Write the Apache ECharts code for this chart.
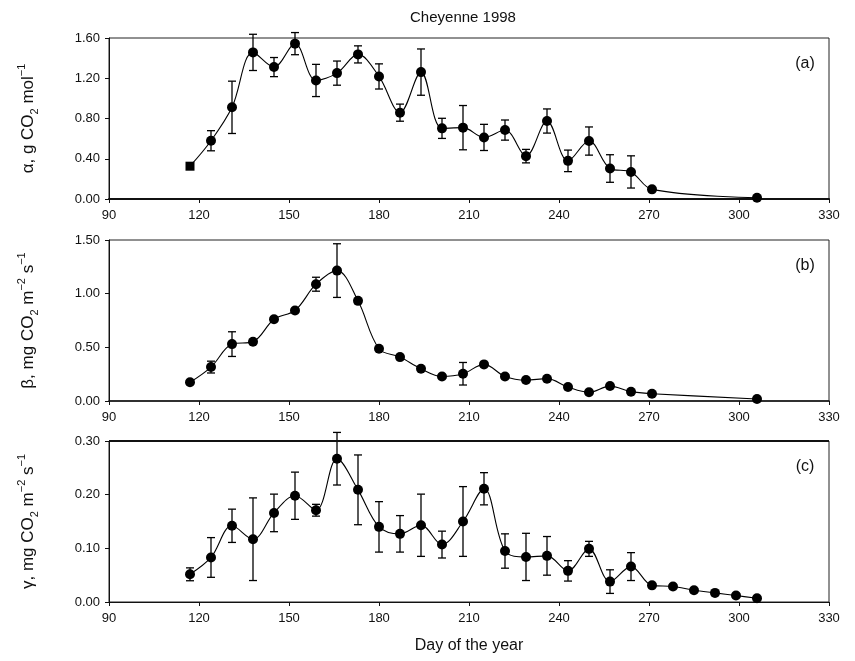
<!DOCTYPE html>
<html>
<head>
<meta charset="utf-8">
<script src="https://cdn.jsdelivr.net/npm/echarts@6/dist/echarts.min.js"></script>
<style>
  html, body { margin: 0; padding: 0; background: #fff; }
  #chart { width: 855px; height: 661px; }
</style>
</head>
<body>
<div id="chart"></div>
<script>
// Weekly sampling days (day of year)
const daysAB = [117, 124, 131, 138, 145, 152, 159, 166, 173, 180, 187, 194, 201, 208, 215, 222, 229, 236, 243, 250, 257, 264, 271, 306];
const daysC = [117, 124, 131, 138, 145, 152, 159, 166, 173, 180, 187, 194, 201, 208, 215, 222, 229, 236, 243, 250, 257, 264, 271, 278, 285, 292, 299, 306];

// (a) alpha, g CO2 mol-1 and its error half-width
const alphaVals = [0.326, 0.579, 0.911, 1.457, 1.311, 1.544, 1.178, 1.251, 1.437, 1.218, 0.858, 1.261, 0.702, 0.709, 0.612, 0.685, 0.426, 0.775, 0.379, 0.576, 0.303, 0.269, 0.096, 0.013];
const alphaErr = [0, 0.10, 0.26, 0.18, 0.095, 0.11, 0.16, 0.12, 0.085, 0.125, 0.085, 0.23, 0.10, 0.22, 0.13, 0.10, 0.067, 0.12, 0.107, 0.14, 0.137, 0.16, 0, 0];

// (b) beta, mg CO2 m-2 s-1
const betaVals = [0.174, 0.316, 0.530, 0.552, 0.762, 0.843, 1.088, 1.215, 0.933, 0.487, 0.409, 0.300, 0.229, 0.254, 0.341, 0.229, 0.195, 0.208, 0.130, 0.081, 0.139, 0.087, 0.068, 0.019];
const betaErr = [0, 0.055, 0.115, 0.02, 0.02, 0.015, 0.065, 0.25, 0.02, 0, 0, 0, 0, 0.105, 0, 0, 0, 0, 0, 0, 0, 0, 0, 0];

// (c) gamma, mg CO2 m-2 s-1
const gammaVals = [0.0516, 0.083, 0.142, 0.117, 0.166, 0.198, 0.171, 0.267, 0.209, 0.140, 0.127, 0.143, 0.107, 0.150, 0.211, 0.095, 0.084, 0.086, 0.058, 0.099, 0.038, 0.066, 0.031, 0.029, 0.022, 0.017, 0.012, 0.007];
const gammaErr = [0.012, 0.037, 0.031, 0.077, 0.035, 0.044, 0.011, 0.049, 0.065, 0.047, 0.034, 0.058, 0.025, 0.065, 0.03, 0.032, 0.044, 0.036, 0.019, 0.014, 0.022, 0.026, 0, 0, 0, 0, 0, 0];

// Axis settings
const xTicks = { min: 90, max: 330, interval: 30 };
const yRanges = [
  { max: 1.6, interval: 0.4 },
  { max: 1.5, interval: 0.5 },
  { max: 0.3, interval: 0.1 }
];

const FONT = '"Liberation Sans", Arial, Helvetica, sans-serif';
const INK = '#111';

const grids = [
  { left: 109, top: 38, width: 720, height: 161 },
  { left: 109, top: 240, width: 720, height: 161 },
  { left: 109, top: 441, width: 720, height: 161 }
].map(g => Object.assign(g, { show: true, borderColor: '#222', borderWidth: 1, backgroundColor: 'transparent' }));

const axisNameRich = {
  n: { fontSize: 17, fontFamily: FONT, color: INK, lineHeight: 24 },
  sub: { fontSize: 11, fontFamily: FONT, color: INK, lineHeight: 13, verticalAlign: 'bottom' },
  sup: { fontSize: 11, fontFamily: FONT, color: INK, lineHeight: 13, verticalAlign: 'top' }
};

const yNames = [
  '{n|α, g CO}{sub|2}{n| mol}{sup|−1}',
  '{n|β, mg CO}{sub|2}{n| m}{sup|−2}{n| s}{sup|−1}',
  '{n|γ, mg CO}{sub|2}{n| m}{sup|−2}{n| s}{sup|−1}'
];
const bottomWidths = [2, 1.5, 1.2];

const xAxes = grids.map((g, i) => ({
  type: 'value', gridIndex: i, min: xTicks.min, max: xTicks.max, interval: xTicks.interval,
  axisLine: { show: true, onZero: false, lineStyle: { color: INK, width: bottomWidths[i] } },
  axisTick: { show: true, inside: false, length: 4, lineStyle: { color: INK } },
  axisLabel: { color: INK, fontSize: 13, fontFamily: FONT, margin: 10 },
  splitLine: { show: false },
  name: i === 2 ? 'Day of the year' : '',
  nameLocation: 'middle', nameGap: 36,
  nameTextStyle: { color: INK, fontSize: 16, fontFamily: FONT }
}));

const yAxes = grids.map((g, i) => ({
  type: 'value', gridIndex: i, min: 0, max: yRanges[i].max, interval: yRanges[i].interval,
  axisLine: { show: true, lineStyle: { color: INK, width: 1 } },
  axisTick: { show: true, inside: false, length: 4, lineStyle: { color: INK } },
  axisLabel: { color: INK, fontSize: 13, fontFamily: FONT, margin: 9, formatter: v => v.toFixed(2) },
  splitLine: { show: false },
  name: yNames[i], nameLocation: 'middle', nameRotate: 90, nameGap: 69,
  nameTextStyle: { rich: axisNameRich }
}));

function lineSeries(idx, days, vals, firstSquare) {
  return {
    type: 'line', xAxisIndex: idx, yAxisIndex: idx,
    smooth: 0.35,
    data: days.map((d, k) => (firstSquare && k === 0)
      ? { value: [d, vals[k]], symbol: 'rect', symbolSize: 9 }
      : [d, vals[k]]),
    symbol: 'circle', symbolSize: 10,
    itemStyle: { color: '#000' },
    lineStyle: { color: '#000', width: 1.1 },
    z: 3, animation: false,
    markLine: idx === 2 ? {
      silent: true, symbol: 'none', label: { show: false },
      lineStyle: { color: INK, width: 2, type: 'solid' },
      data: [{ yAxis: 0.3 }]
    } : undefined
  };
}

function errSeries(idx, days, vals, errs) {
  const data = [];
  days.forEach((d, k) => { if (errs[k] > 0) data.push([d, vals[k] - errs[k], vals[k] + errs[k]]); });
  return {
    type: 'custom', xAxisIndex: idx, yAxisIndex: idx,
    dimensions: ['x', 'lo', 'hi'],
    encode: { x: 0, y: [1, 2] },
    data: data, z: 2, animation: false,
    renderItem: function (params, api) {
      const x = api.value(0);
      const top = api.coord([x, api.value(2)]);
      const bot = api.coord([x, api.value(1)]);
      const hw = 4;
      const style = { stroke: '#000', lineWidth: 1.3 };
      return {
        type: 'group',
        children: [
          { type: 'line', shape: { x1: top[0], y1: top[1], x2: bot[0], y2: bot[1] }, style },
          { type: 'line', shape: { x1: top[0] - hw, y1: top[1], x2: top[0] + hw, y2: top[1] }, style },
          { type: 'line', shape: { x1: bot[0] - hw, y1: bot[1], x2: bot[0] + hw, y2: bot[1] }, style }
        ]
      };
    }
  };
}

const panelLabels = ['(a)', '(b)', '(c)'];
const graphics = [
  { type: 'text', x: 463, y: 18, style: { text: 'Cheyenne 1998', fill: INK, font: '15px ' + FONT, textAlign: 'center', textVerticalAlign: 'middle' } }
].concat(grids.map((g, i) => ({
  type: 'text', x: 805, y: g.top + 26,
  style: { text: panelLabels[i], fill: INK, font: '16px ' + FONT, textAlign: 'center', textVerticalAlign: 'middle' }
})));

const chart = echarts.init(document.getElementById('chart'), null, { renderer: 'canvas' });
chart.setOption({
  backgroundColor: '#fff',
  animation: false,
  grid: grids,
  xAxis: xAxes,
  yAxis: yAxes,
  graphic: graphics,
  series: [
    errSeries(0, daysAB, alphaVals, alphaErr),
    lineSeries(0, daysAB, alphaVals, true),
    errSeries(1, daysAB, betaVals, betaErr),
    lineSeries(1, daysAB, betaVals, false),
    errSeries(2, daysC, gammaVals, gammaErr),
    lineSeries(2, daysC, gammaVals, false)
  ]
});
</script>
</body>
</html>
